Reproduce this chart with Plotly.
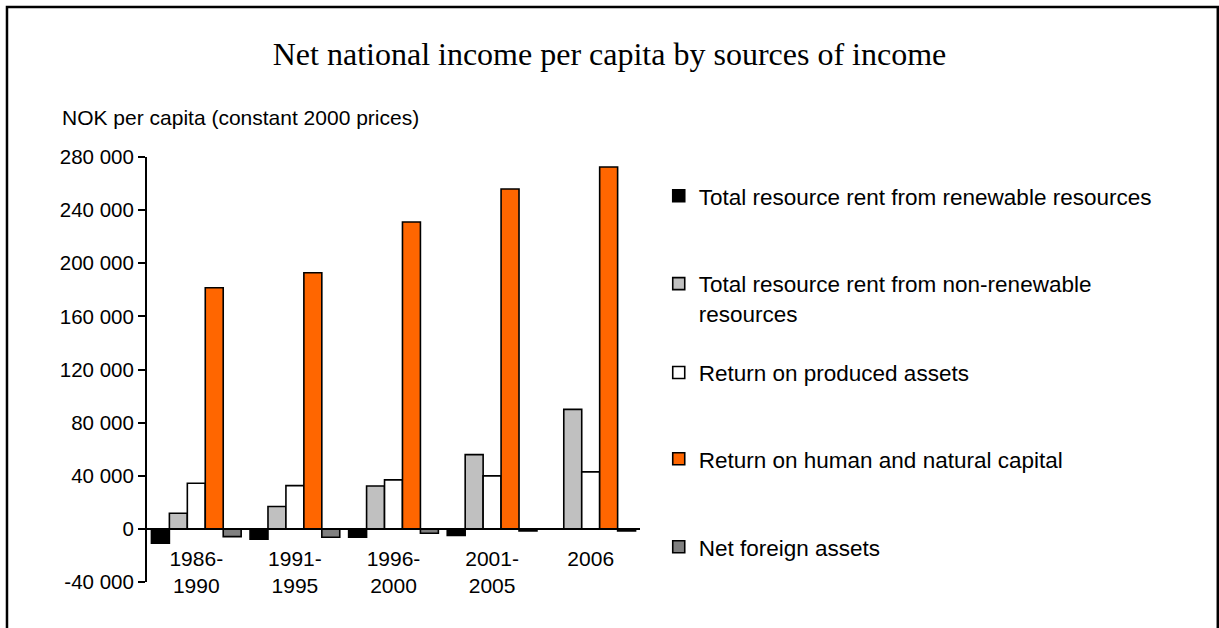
import plotly.graph_objects as go

# Periods on the category axis
periods = ["1986-<br>1990", "1991-<br>1995", "1996-<br>2000", "2001-<br>2005", "2006"]

# NOK per capita (constant 2000 prices)
renewable_rent = [-10800, -7800, -6300, -5000, 0]
nonrenewable_rent = [11800, 16800, 32300, 55900, 90000]
produced_assets = [34300, 32600, 36900, 39900, 42900]
human_natural_capital = [181500, 192800, 231100, 255900, 272500]
net_foreign_assets = [-5800, -6300, -3300, -1500, -1500]

series_names = [
    "Total resource rent from renewable resources",
    "Total resource rent from non-renewable<br>resources",
    "Return on produced assets",
    "Return on human and natural capital",
    "Net foreign assets",
]
series_values = [renewable_rent, nonrenewable_rent, produced_assets,
                 human_natural_capital, net_foreign_assets]
series_colors = ["#000000", "#C0C0C0", "#FFFFFF", "#FF6600", "#808080"]

y_ticks = [-40000, 0, 40000, 80000, 120000, 160000, 200000, 240000, 280000]
y_ticktext = [f"{v:,}".replace(",", " ") for v in y_ticks]

SANS = "Liberation Sans, Arial, sans-serif"
SERIF = "Liberation Serif, Times New Roman, serif"

# one legend per series so entries sit at Excel-like positions
legend_ids = ["legend", "legend2", "legend3", "legend4", "legend5"]
legend_y = [0.908, 0.667, 0.492, 0.289, 0.082]

fig = go.Figure()
for name, vals, col, lg in zip(series_names, series_values, series_colors, legend_ids):
    fig.add_trace(go.Bar(
        x=periods, y=vals, name=name, legend=lg,
        marker=dict(color=col, line=dict(color="#000000", width=1.6)),
    ))

layout_legends = {}
for lg, ly in zip(legend_ids, legend_y):
    layout_legends[lg] = dict(
        x=1.038, y=ly, xanchor="left", yanchor="middle",
        font=dict(family=SANS, size=22.5, color="#000000"),
        bgcolor="rgba(0,0,0,0)", valign="top",
        itemclick=False, itemdoubleclick=False,
    )

fig.update_layout(
    width=1219, height=628,
    margin=dict(l=147, r=579, t=157, b=46),
    paper_bgcolor="#FFFFFF", plot_bgcolor="#FFFFFF",
    barmode="group", bargap=0.09, bargroupgap=0.0,
    showlegend=True,
    title=dict(
        text="Net national income per capita by sources of income",
        font=dict(family=SERIF, size=32, color="#000000"),
        x=0.5, xref="container", xanchor="center",
        y=1 - 54 / 628, yref="container", yanchor="middle",
    ),
    xaxis=dict(
        type="category", anchor="free", position=0.125,
        showline=True, linecolor="#000000", linewidth=2,
        ticks="", showgrid=False, zeroline=False,
        tickfont=dict(family=SANS, size=21, color="#000000"),
        ticklabelstandoff=11,
    ),
    yaxis=dict(
        range=[-40000, 280000], tickvals=y_ticks, ticktext=y_ticktext,
        showline=True, linecolor="#000000", linewidth=2,
        ticks="outside", ticklen=7, tickwidth=2, tickcolor="#000000",
        showgrid=False, zeroline=False,
        tickfont=dict(family=SANS, size=20.5, color="#000000"),
    ),
    annotations=[dict(
        text="NOK per capita (constant 2000 prices)",
        xref="paper", yref="paper", x=-0.1765, y=1.094,
        xanchor="left", yanchor="middle", showarrow=False,
        font=dict(family=SANS, size=21, color="#000000"),
    )],
    shapes=[dict(
        type="path", xref="paper", yref="paper",
        path="M -0.284,-0.3 L -0.284,1.3529 L 2.172,1.3529 L 2.172,-0.3",
        line=dict(color="#000000", width=2.5),
    )],
    **layout_legends,
)

fig.write_html("out.html")
